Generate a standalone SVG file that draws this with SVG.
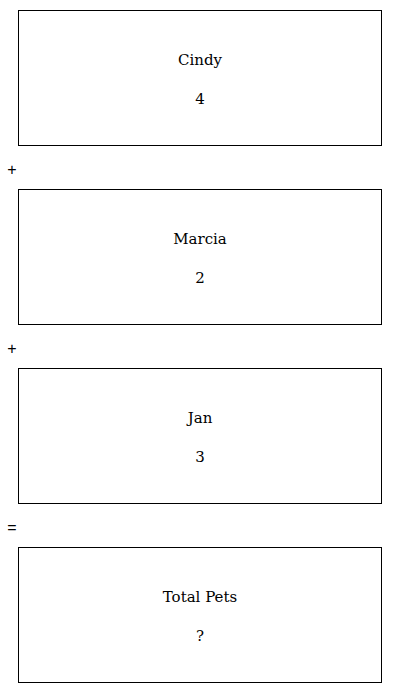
<svg xmlns="http://www.w3.org/2000/svg" width="400" height="693" viewBox="0 0 400 693">
<style>
.box{fill:#fff;stroke:#000;stroke-width:1}
.t{font-family:"DejaVu Serif",serif;font-size:15px;text-anchor:middle;fill:#000}
.op{font-family:"Liberation Sans",sans-serif;font-size:16px;text-anchor:middle;fill:#000}
</style>
<rect width="400" height="693" fill="#fff"/>
<g id="cindy"><rect class="box" x="18.5" y="10.5" width="363" height="135"/><text class="t" x="200" y="65">Cindy</text><text class="t" x="200" y="104">4</text></g>
<g id="marcia"><rect class="box" x="18.5" y="189.5" width="363" height="135"/><text class="t" x="200" y="244">Marcia</text><text class="t" x="200" y="283">2</text></g>
<g id="jan"><rect class="box" x="18.5" y="368.5" width="363" height="135"/><text class="t" x="200" y="423">Jan</text><text class="t" x="200" y="462">3</text></g>
<g id="total"><rect class="box" x="18.5" y="547.5" width="363" height="135"/><text class="t" x="200" y="602">Total Pets</text><text class="t" x="200" y="641">?</text></g>
<g id="operators"><text class="op" x="12" y="175">+</text><text class="op" x="12" y="354">+</text><text class="op" x="12" y="533">=</text></g>
</svg>
